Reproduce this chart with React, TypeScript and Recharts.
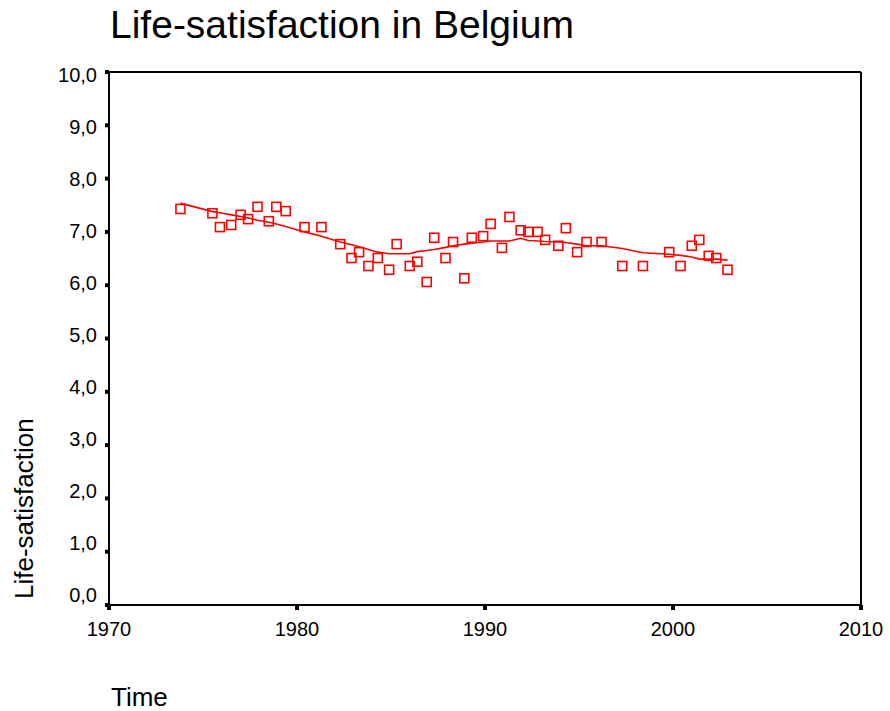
import { ComposedChart, Scatter, Line, XAxis, YAxis, ReferenceLine } from 'recharts';

// survey year (fractional) of each observation
const years = [
  1973.8, 1975.5, 1975.9, 1976.5, 1977.0, 1977.4, 1977.9, 1978.5, 1978.9, 1979.4,
  1980.4, 1981.3, 1982.3, 1982.9, 1983.3, 1983.8, 1984.3, 1984.9, 1985.3, 1986.0,
  1986.4, 1986.9, 1987.3, 1987.9, 1988.3, 1988.9, 1989.3, 1989.9, 1990.3, 1990.9,
  1991.3, 1991.9, 1992.3, 1992.8, 1993.2, 1993.9, 1994.3, 1994.9, 1995.4, 1996.2,
  1997.3, 1998.4, 1999.8, 2000.4, 2001.0, 2001.4, 2001.9, 2002.3, 2002.9,
];

// mean life-satisfaction per survey
const satisfaction = [
  7.43, 7.35, 7.09, 7.13, 7.32, 7.24, 7.47, 7.2, 7.47, 7.39,
  7.09, 7.09, 6.77, 6.51, 6.62, 6.36, 6.51, 6.29, 6.77, 6.36,
  6.44, 6.06, 6.89, 6.51, 6.81, 6.13, 6.89, 6.92, 7.15, 6.7,
  7.28, 7.03, 7.0, 7.0, 6.85, 6.74, 7.07, 6.62, 6.81, 6.81,
  6.36, 6.36, 6.62, 6.36, 6.74, 6.85, 6.55, 6.51, 6.29,
];

// smoothed trend (loess)
const trend = [
  7.54, 7.38, 7.36, 7.32, 7.29, 7.26, 7.22, 7.18, 7.15, 7.1,
  7.0, 6.92, 6.81, 6.76, 6.72, 6.67, 6.62, 6.59, 6.59, 6.59,
  6.63, 6.65, 6.67, 6.71, 6.74, 6.77, 6.79, 6.81, 6.83, 6.83,
  6.83, 6.88, 6.84, 6.83, 6.82, 6.81, 6.8, 6.77, 6.74, 6.74,
  6.69, 6.61, 6.58, 6.56, 6.53, 6.49, 6.49, 6.49, 6.47,
];

const xTicks = [1970, 1980, 1990, 2000, 2010];
const yTicks = [0, 1, 2, 3, 4, 5, 6, 7, 8, 9, 10];

const data = years.map((year, i) => ({ year, value: satisfaction[i], fit: trend[i] }));

const FONT = '"Liberation Sans", Arial, sans-serif';
const RED = '#ff0000';

const fmt = (v: number) => v.toFixed(1).replace('.', ',');

const SquareMarker = (props: any) => {
  const { cx, cy } = props;
  if (cx == null || cy == null) return null;
  return <rect x={cx - 4.5} y={cy - 4.5} width={9} height={9} fill="none" stroke={RED} strokeWidth={1.6} />;
};

const YTick = (props: any) => {
  const { y, payload } = props;
  // labels sit on a slightly tighter scale than the ticks
  const cy = 335 + (y - 338.5) * 0.9756;
  return (
    <text x={97} y={cy + 7} textAnchor="end" fontSize={20} fontFamily={FONT} fill="#000">
      {fmt(payload.value)}
    </text>
  );
};

const XTick = (props: any) => {
  const { x, y, payload } = props;
  return (
    <text x={x} y={y + 25} textAnchor="middle" fontSize={20} fontFamily={FONT} fill="#000">
      {payload.value}
    </text>
  );
};

export default function App() {
  return (
    <div style={{ position: 'relative', width: 890, height: 711, background: '#fff' }}>
      <style>{'body{margin:0}'}</style>
      <ComposedChart width={890} height={711} data={data} margin={{ top: 72, right: 29, bottom: 76, left: 0 }}>
        <XAxis
          dataKey="year"
          type="number"
          domain={[1970, 2010]}
          ticks={xTicks}
          height={30}
          axisLine={{ stroke: '#000', strokeWidth: 2 }}
          tickLine={{ stroke: '#000', strokeWidth: 4 }}
          tickSize={5}
          tickMargin={1}
          tick={<XTick />}
          interval={0}
        />
        <YAxis
          type="number"
          domain={[0, 10]}
          ticks={yTicks}
          width={109}
          axisLine={{ stroke: '#000', strokeWidth: 2 }}
          tickLine={{ stroke: '#000', strokeWidth: 4 }}
          tickSize={4}
          tick={<YTick />}
          interval={0}
        />
        <ReferenceLine y={10} stroke="#000" strokeWidth={2} />
        <ReferenceLine x={2010} stroke="#000" strokeWidth={2} />
        <Line
          dataKey="fit"
          type="linear"
          stroke={RED}
          strokeWidth={1.6}
          dot={false}
          activeDot={false}
          isAnimationActive={false}
        />
        <Scatter dataKey="value" shape={<SquareMarker />} isAnimationActive={false} />
      </ComposedChart>
      <svg width={890} height={711} style={{ position: 'absolute', left: 0, top: 0, pointerEvents: 'none' }}>
        <text x={110} y={38} fontSize={39} fontFamily={FONT} fill="#000">
          Life-satisfaction in Belgium
        </text>
        <text transform="translate(33,599) rotate(-90)" fontSize={26} fontFamily={FONT} fill="#000">
          Life-satisfaction
        </text>
        <text x={111} y={706} fontSize={26} fontFamily={FONT} fill="#000">
          Time
        </text>
      </svg>
    </div>
  );
}
